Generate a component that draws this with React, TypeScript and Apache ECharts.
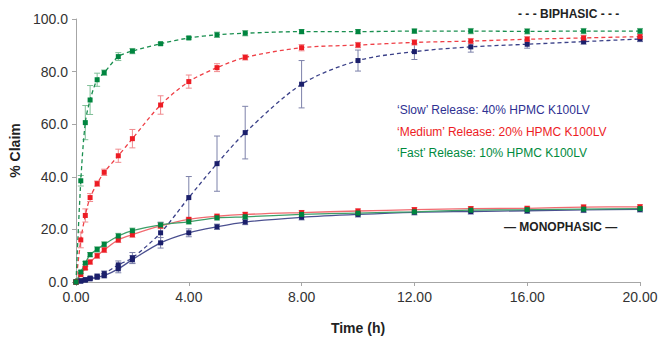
import React, { useEffect, useRef } from "react";
import * as echarts from "echarts";

const times = [0, 0.17, 0.33, 0.5, 0.75, 1, 1.5, 2, 3, 4, 5, 6, 8, 10, 12, 14, 16, 18, 20];

const biSlow = [0, 0.5, 0.9, 1.5, 2.2, 3.2, 6.5, 9.2, 18.7, 32.1, 45.0, 56.8, 75.2, 84.2, 87.6, 89.4, 90.4, 91.4, 92.4];
const biSlowErr = [0, 0.3, 0.4, 0.5, 0.8, 1, 1.5, 2, 4, 8, 10.5, 10, 9, 4, 3, 2, 1.5, 1, 1];
const biMed = [0, 16.0, 25.3, 32.1, 37.4, 41.7, 48.0, 54.5, 67.3, 76.2, 81.5, 85.4, 89.1, 90.1, 91.1, 91.6, 92.3, 92.8, 93.3];
const biMedErr = [0, 3, 2.5, 1.5, 1, 1.2, 2.5, 3.5, 3.5, 2.5, 1.5, 1, 1.2, 1, 1, 1, 1, 1, 1];
const biFast = [0, 38.5, 60.6, 69.2, 76.9, 79.6, 85.7, 87.8, 90.6, 92.8, 94.0, 94.6, 95.2, 95.2, 95.4, 95.4, 95.3, 95.4, 95.4];
const biFastErr = [0, 2, 6.5, 5.5, 2.5, 1, 1.5, 1, 0.5, 0.5, 1, 1, 0.8, 0.8, 0.8, 1, 1, 1, 1];

const monoSlow = [0, 0.3, 0.7, 1.2, 1.8, 2.4, 5.0, 8.5, 14.9, 18.7, 21.0, 22.8, 24.6, 25.7, 26.5, 26.8, 27.1, 27.4, 27.6];
const monoSlowErr = [0, 0.3, 0.3, 0.4, 0.5, 0.8, 1.5, 1.5, 2, 1.5, 1, 1, 1, 1, 1, 1, 1, 1, 1];
const monoMed = [0, 2.8, 5.3, 7.6, 10.0, 12.2, 16.0, 18.0, 21.3, 23.8, 25.0, 25.7, 26.4, 27.0, 27.5, 27.9, 28.0, 28.5, 28.6];
const monoMedErr = [0, 0.5, 0.6, 0.8, 1, 1, 1, 1, 1, 0.8, 0.8, 0.8, 0.8, 0.8, 0.8, 0.8, 0.8, 0.8, 0.8];
const monoFast = [0, 3.8, 7.2, 10.4, 12.4, 14.3, 17.5, 19.5, 21.7, 22.9, 24.4, 24.8, 25.7, 26.2, 26.7, 27.3, 27.5, 27.7, 27.9];
const monoFastErr = [0, 0.5, 0.6, 0.8, 1, 1, 1, 1, 1, 0.8, 0.8, 0.8, 0.8, 0.8, 0.8, 0.8, 0.8, 0.8, 0.8];

const xTicks = { min: 0, max: 20, interval: 4 };
const yTicks = { min: 0, max: 100, interval: 20 };

const legendLines = [
  "\u2018Slow\u2019 Release: 40% HPMC K100LV",
  "\u2018Medium\u2019 Release: 20% HPMC K100LV",
  "\u2018Fast\u2019 Release: 10% HPMC K100LV",
];

const NAVY = "#1b1f6b";
const RED = "#ed1c24";
const GREEN = "#00853f";

const FONT = "'Liberation Sans', Arial, sans-serif";

function pairs(vals: number[]) {
  return times.map((t, i) => [t, vals[i]]);
}

function errData(vals: number[], errs: number[]) {
  return times.map((t, i) => [t, vals[i] - errs[i], vals[i] + errs[i]]);
}

function errSeries(vals: number[], errs: number[], color: string) {
  return {
    type: "custom",
    data: errData(vals, errs),
    z: 3,
    silent: true,
    renderItem: (params: any, api: any) => {
      const x = api.value(0);
      const lo = api.coord([x, api.value(1)]);
      const hi = api.coord([x, api.value(2)]);
      if (Math.abs(hi[1] - lo[1]) < 1.5) return { type: "group", children: [] };
      const w = 3;
      const st = { stroke: color, lineWidth: 1, fill: "none" };
      return {
        type: "group",
        children: [
          { type: "line", shape: { x1: lo[0], y1: lo[1], x2: hi[0], y2: hi[1] }, style: st },
          { type: "line", shape: { x1: lo[0] - w, y1: lo[1], x2: lo[0] + w, y2: lo[1] }, style: st },
          { type: "line", shape: { x1: hi[0] - w, y1: hi[1], x2: hi[0] + w, y2: hi[1] }, style: st },
        ],
      };
    },
  };
}

function lineSeries(vals: number[], color: string, lineColor: string, dashed: boolean) {
  return {
    type: "line",
    data: pairs(vals),
    smooth: 0.3,
    symbol: "rect",
    symbolSize: 5,
    z: 4,
    itemStyle: { color },
    lineStyle: { color: lineColor, width: 1.3, type: dashed ? [4, 3] : "solid" },
  };
}

export default function App() {
  const ref = useRef<HTMLDivElement>(null);
  useEffect(() => {
    document.body.style.margin = "0";
    if (!ref.current) return;
    const chart = echarts.init(ref.current, undefined, { renderer: "svg" });
    chart.setOption({
      animation: false,
      backgroundColor: "#ffffff",
      textStyle: { fontFamily: FONT },
      grid: { left: 76, right: 21, top: 19, bottom: 55, containLabel: false, outerBoundsMode: "none" },
      xAxis: {
        type: "value",
        min: xTicks.min,
        max: xTicks.max,
        interval: xTicks.interval,
        name: "Time (h)",
        nameLocation: "middle",
        nameGap: 39,
        nameTextStyle: { fontFamily: FONT, fontWeight: "bold", fontSize: 14, color: "#222" },
        axisLine: { lineStyle: { color: "#a6a6a6", width: 1 } },
        axisTick: { show: true, length: 4, lineStyle: { color: "#a6a6a6" } },
        axisLabel: {
          fontFamily: FONT,
          fontSize: 14,
          color: "#333",
          margin: 8,
          formatter: (v: number) => v.toFixed(2),
        },
        splitLine: { show: false },
      },
      yAxis: {
        type: "value",
        min: yTicks.min,
        max: yTicks.max,
        interval: yTicks.interval,
        name: "% Claim",
        nameLocation: "middle",
        nameGap: 52,
        nameRotate: 90,
        nameTextStyle: { fontFamily: FONT, fontWeight: "bold", fontSize: 14, color: "#222" },
        axisLine: { show: true, lineStyle: { color: "#a6a6a6", width: 1 } },
        axisTick: { show: true, length: 4, lineStyle: { color: "#a6a6a6" } },
        axisLabel: {
          fontFamily: FONT,
          fontSize: 14,
          color: "#333",
          margin: 8,
          formatter: (v: number) => v.toFixed(1),
        },
        splitLine: { show: false },
      },
      series: [
        errSeries(monoSlow, monoSlowErr, "#7d82aa"),
        errSeries(monoMed, monoMedErr, "#f08a8e"),
        errSeries(monoFast, monoFastErr, "#7fbf97"),
        errSeries(biSlow, biSlowErr, "#7d82aa"),
        errSeries(biMed, biMedErr, "#f08a8e"),
        errSeries(biFast, biFastErr, "#7fbf97"),
        lineSeries(monoSlow, NAVY, "#4b5090", false),
        lineSeries(monoMed, RED, "#f26a70", false),
        lineSeries(monoFast, GREEN, "#3d9f68", false),
        lineSeries(biSlow, NAVY, "#3a4088", true),
        lineSeries(biMed, RED, "#ef4047", true),
        lineSeries(biFast, GREEN, "#1a8f50", true),
      ],
      graphic: [
        {
          type: "text",
          left: 518,
          top: 8,
          style: { text: "- - - BIPHASIC - - -", font: `bold 12px ${FONT}`, fill: "#222" },
        },
        {
          type: "text",
          left: 504,
          top: 221,
          style: { text: "\u2014 MONOPHASIC \u2014", font: `bold 12px ${FONT}`, fill: "#222" },
        },
        {
          type: "text",
          left: 397,
          top: 104,
          style: { text: legendLines[0], font: `12px ${FONT}`, fill: "#2e3192" },
        },
        {
          type: "text",
          left: 397,
          top: 126,
          style: { text: legendLines[1], font: `12px ${FONT}`, fill: RED },
        },
        {
          type: "text",
          left: 397,
          top: 147,
          style: { text: legendLines[2], font: `12px ${FONT}`, fill: "#008a3e" },
        },
      ],
    });
    return () => chart.dispose();
  }, []);
  return <div ref={ref} style={{ width: 661, height: 337 }} />;
}
